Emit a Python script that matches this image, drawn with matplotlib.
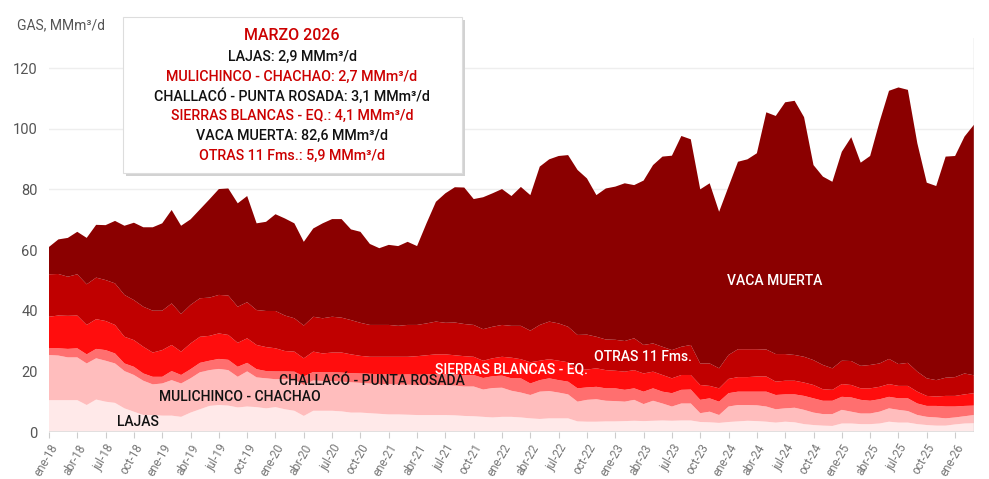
import matplotlib.pyplot as plt
from matplotlib.patches import Rectangle
import numpy as np

# monthly gas production by formation, ene-18 .. mar-26 (MMm3/d)
lajas = [10.5, 10.5, 10.5, 10.5, 8.9, 10.7, 10.0, 9.6, 7.8, 6.7, 5.6, 5.6,
         5.4, 5.4, 5.0, 6.4, 7.5, 8.6, 8.9, 8.7, 8.1, 8.4, 8.2, 7.8,
         8.2, 7.5, 7.0, 5.3, 7.0, 7.0, 7.0, 6.8, 6.4, 6.4, 6.2, 6.0,
         5.8, 5.8, 5.7, 5.6, 5.6, 5.6, 5.6, 5.5, 5.3, 5.2, 5.0, 4.8,
         5.0, 5.0, 4.8, 4.5, 4.3, 4.5, 4.5, 4.5, 3.5, 3.4, 3.4, 3.5,
         3.5, 3.6, 3.7, 3.6, 3.7, 3.8, 3.7, 3.8, 3.8, 3.3, 3.2, 3.0,
         3.3, 3.5, 3.7, 3.6, 3.4, 3.1, 3.4, 3.2, 2.6, 2.3, 2.1, 2.0,
         2.8, 2.8, 2.6, 2.6, 2.8, 3.4, 3.1, 3.1, 2.6, 2.3, 2.1, 2.1,
         2.5, 2.8, 2.9]
mulichinco = [14.9, 14.7, 14.1, 14.1, 13.7, 13.6, 13.5, 13.0, 12.3, 12.1, 11.3, 10.1,
              10.6, 11.7, 11.0, 11.3, 12.2, 11.8, 11.9, 11.7, 10.1, 11.6, 9.8, 9.9,
              9.2, 9.9, 10.2, 10.2, 10.0, 9.8, 9.8, 9.8, 10.0, 9.8, 9.8, 9.8,
              10.0, 9.8, 9.9, 9.9, 9.9, 9.9, 9.8, 9.8, 9.7, 9.8, 9.0, 9.7,
              9.6, 8.6, 8.2, 7.7, 9.0, 9.0, 8.5, 7.9, 6.5, 7.2, 7.4, 6.8,
              6.7, 6.4, 6.9, 5.6, 6.6, 5.6, 4.7, 5.6, 5.6, 2.9, 3.5, 2.6,
              5.1, 5.4, 5.2, 5.2, 5.0, 4.4, 4.4, 4.8, 4.7, 4.1, 3.8, 3.9,
              4.5, 3.9, 3.5, 3.5, 3.9, 4.4, 4.2, 3.8, 3.0, 2.7, 2.7, 2.4,
              2.3, 2.4, 2.7]
challaco = [2.2, 2.4, 2.8, 3.0, 3.0, 3.1, 3.5, 3.3, 2.5, 2.7, 2.4, 2.5,
            2.2, 3.0, 2.8, 3.0, 3.1, 3.1, 3.3, 3.4, 3.3, 2.8, 2.7, 2.4,
            2.6, 2.6, 2.7, 2.8, 2.8, 2.9, 2.9, 3.0, 3.0, 3.1, 3.2, 3.2,
            3.3, 3.3, 3.4, 3.4, 3.5, 3.6, 3.6, 3.7, 3.7, 3.8, 3.8, 3.9,
            4.0, 4.1, 4.7, 3.8, 3.8, 4.2, 4.1, 4.2, 4.4, 4.1, 4.1, 4.1,
            4.2, 3.9, 3.8, 4.1, 4.1, 3.9, 4.4, 4.5, 4.6, 4.4, 4.4, 4.4,
            4.4, 4.4, 4.4, 4.5, 4.9, 4.7, 4.6, 4.4, 4.6, 4.7, 4.4, 4.4,
            4.3, 4.7, 4.5, 4.2, 4.1, 3.8, 3.8, 4.2, 3.8, 3.6, 3.8, 3.9,
            3.6, 3.4, 3.1]
sierras = [10.4, 10.8, 10.9, 10.8, 9.7, 9.8, 9.6, 9.4, 8.8, 8.8, 8.8, 8.0,
           8.8, 8.6, 7.7, 8.5, 8.6, 8.2, 8.4, 8.2, 7.9, 8.1, 8.0, 7.9,
           7.6, 6.7, 6.6, 6.0, 6.7, 6.2, 6.5, 6.6, 6.2, 5.8, 5.6, 5.8,
           5.7, 5.9, 5.8, 6.1, 6.3, 6.5, 6.6, 6.3, 6.3, 6.0, 5.7, 5.9,
           6.2, 6.8, 6.3, 7.0, 6.4, 6.3, 6.4, 6.4, 6.0, 5.9, 6.1, 6.0,
           5.8, 6.0, 6.0, 6.0, 5.5, 5.5, 4.9, 4.9, 4.8, 4.9, 4.1, 4.4,
           4.7, 4.8, 4.8, 5.0, 5.0, 4.4, 4.5, 4.5, 4.4, 4.4, 3.8, 3.6,
           4.2, 4.1, 3.8, 4.1, 4.1, 4.2, 4.1, 4.1, 3.9, 3.3, 3.1, 3.5,
           3.5, 3.8, 4.1]
otras = [14.0, 13.7, 12.9, 13.6, 13.4, 13.7, 13.5, 13.7, 13.8, 13.2, 13.2, 13.8,
         13.0, 13.7, 12.4, 12.7, 12.7, 12.6, 12.7, 13.0, 11.9, 11.9, 11.5, 11.9,
         12.3, 11.7, 11.0, 10.8, 11.5, 11.6, 11.8, 11.5, 11.3, 10.9, 10.5, 10.5,
         10.5, 10.2, 10.5, 10.3, 10.5, 10.8, 10.4, 10.8, 10.6, 10.5, 10.4, 10.4,
         10.5, 10.5, 11.0, 10.4, 11.8, 12.4, 12.3, 11.7, 11.6, 11.5, 10.4, 10.1,
         10.2, 10.1, 10.5, 9.4, 9.3, 9.3, 9.3, 9.3, 9.9, 7.1, 7.4, 6.6,
         7.9, 9.2, 9.2, 9.0, 8.9, 9.1, 8.8, 8.5, 8.5, 8.2, 8.0, 7.1,
         7.7, 7.9, 7.4, 7.7, 7.7, 8.3, 7.2, 7.6, 6.6, 5.8, 5.4, 6.0,
         6.2, 6.9, 5.9]
vaca_muerta = [9.0, 11.4, 12.8, 14.0, 15.3, 17.4, 18.1, 20.6, 22.8, 25.5, 26.2, 27.5,
               28.8, 30.8, 29.1, 28.2, 29.3, 32.4, 34.9, 35.3, 34.1, 35.0, 28.6, 29.4,
               31.9, 32.0, 31.3, 27.6, 29.1, 31.3, 32.2, 32.5, 29.9, 30.0, 26.7, 25.3,
               26.4, 26.3, 27.4, 26.0, 33.0, 39.5, 42.7, 44.6, 45.0, 41.5, 43.5, 44.0,
               44.8, 42.8, 45.8, 44.7, 52.2, 53.5, 55.2, 56.6, 54.4, 51.5, 46.7, 49.8,
               50.5, 52.0, 50.5, 54.2, 58.8, 62.7, 64.1, 69.5, 67.8, 57.4, 59.4, 51.6,
               55.5, 61.8, 62.6, 64.6, 78.2, 78.5, 83.0, 83.8, 79.0, 64.3, 62.1, 61.5,
               68.9, 73.8, 67.0, 68.9, 79.7, 88.4, 91.2, 90.0, 75.3, 64.5, 64.0, 72.9,
               72.9, 78.1, 82.6]

months = ["ene", "feb", "mar", "abr", "may", "jun", "jul", "ago", "sep", "oct", "nov", "dic"]
years = ["18", "19", "20", "21", "22", "23", "24", "25", "26"]

colors = ["#ffe9e9", "#ffbdbd", "#ff6f6f", "#ff0d0d", "#c00000", "#8b0000"]

plt.rcParams['font.family'] = ['Roboto', 'DejaVu Sans']

x = np.arange(len(lajas))
labels = [f"{m}-{y}" for y in years for m in months][:len(x)]

fig = plt.figure(figsize=(9.89, 4.79), dpi=100)
ax = fig.add_axes([0.0495, 0.0981, 0.9353, 0.8232])

ax.stackplot(x, lajas, mulichinco, challaco, sierras, otras, vaca_muerta,
             colors=colors, linewidth=0, zorder=2)

ax.set_xlim(0, len(x) - 1)
ax.set_ylim(0, 130)
ax.set_yticks(range(0, 121, 20))
ax.yaxis.grid(True, color="#eeeeee", linewidth=1, zorder=0)
ax.axhline(0, color="#dddddd", linewidth=1.2, zorder=3)
ax.axvline(len(x) - 1, color="#cccccc", linewidth=1, zorder=3)

ax.set_xticks(x[::3])
ax.set_xticklabels(labels[::3], rotation=60, ha="right", rotation_mode="anchor",
                   fontsize=8.5, color="#777777")
ax.tick_params(axis="x", length=4, color="#cccccc", pad=3)
ax.tick_params(axis="y", length=0, labelsize=10.5, labelcolor="#555555", pad=8)
for s in ax.spines.values():
    s.set_visible(False)

fig.text(17 / 989, 1 - 25 / 479, "GAS, MMm³/d", fontsize=10, color="#555555",
         va="center", ha="left")

# labels inside the areas
lab = dict(fontsize=10, fontweight="medium", va="center")
ax.text(7.2, 3.3, "LAJAS", color="#111111", **lab)
ax.text(11.7, 11.6, "MULICHINCO - CHACHAO", color="#111111", **lab)
ax.text(24.4, 16.8, "CHALLACÓ - PUNTA ROSADA", color="#111111", **lab)
ax.text(40.9, 20.8, "SIERRAS BLANCAS - EQ.", color="white", **lab)
ax.text(57.7, 24.6, "OTRAS 11 Fms.", color="white", **lab)
ax.text(71.8, 49.8, "VACA MUERTA", color="white", **lab)

# tooltip box for the last month
bx0, by0, bx1, by1 = 123 / 989, 1 - 173 / 479, 462 / 989, 1 - 17 / 479
fig.patches.append(Rectangle((bx0 + 0.003, by0 - 0.006), bx1 - bx0, by1 - by0,
                             transform=fig.transFigure, facecolor="#d2d2d2",
                             edgecolor="none", zorder=5))
fig.patches.append(Rectangle((bx0, by0), bx1 - bx0, by1 - by0,
                             transform=fig.transFigure, facecolor="white",
                             edgecolor="#dddddd", linewidth=0.8, zorder=6))

last = len(x) - 1
tip_names = ["LAJAS", "MULICHINCO - CHACHAO", "CHALLACÓ - PUNTA ROSADA",
             "SIERRAS BLANCAS - EQ.", "VACA MUERTA", "OTRAS 11 Fms."]
tip_values = [lajas[last], mulichinco[last], challaco[last], sierras[last],
              vaca_muerta[last], otras[last]]
cx = 292 / 989
fig.text(cx, 1 - 35 / 479, "MARZO 2026", fontsize=11.5, fontweight="medium",
         color="#cc0000", ha="center", va="center", zorder=7)
for i, (name, val) in enumerate(zip(tip_names, tip_values)):
    col = "#111111" if i % 2 == 0 else "#cc0000"
    num = f"{val:.1f}".replace(".", ",")
    fig.text(cx, 1 - (57 + 19.8 * i) / 479, f"{name}: {num} MMm³/d", fontsize=10.3,
             fontweight="medium", color=col, ha="center", va="center", zorder=7)

fig.savefig("out.png", dpi=100)
